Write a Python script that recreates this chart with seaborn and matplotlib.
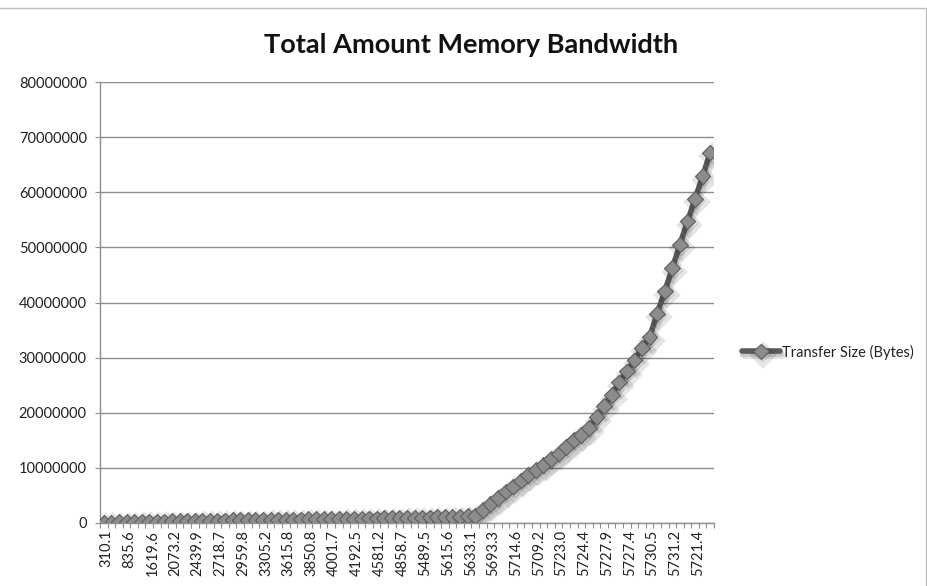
import matplotlib
matplotlib.use("Agg")
import matplotlib.pyplot as plt
import matplotlib.patheffects as pe
import matplotlib.transforms as mtransforms
from matplotlib.patches import Rectangle
import numpy as np
import pandas as pd
import seaborn as sns

title = "Total Amount Memory Bandwidth"
series_name = "Transfer Size (Bytes)"

# category labels shown on the x axis (every third category)
x_labels = [
    "310.1", "835.6", "1619.6", "2073.2", "2439.9", "2718.7", "2959.8",
    "3305.2", "3615.8", "3850.8", "4001.7", "4192.5", "4581.2", "4858.7",
    "5489.5", "5615.6", "5633.1", "5693.3", "5714.6", "5709.2", "5723.0",
    "5724.4", "5727.9", "5727.4", "5730.5", "5731.2", "5721.4",
]
label_step = 3

# transfer size per category, in bytes
transfer_size = [
    50000, 90000, 130000, 160000, 190000, 220000, 240000, 270000, 290000, 310000,
    330000, 360000, 380000, 400000, 420000, 440000, 460000, 480000, 500000, 520000,
    540000, 560000, 580000, 600000, 620000, 630000, 650000, 670000, 690000, 710000,
    720000, 740000, 760000, 780000, 800000, 820000, 840000, 860000, 880000, 900000,
    930000, 960000, 990000, 1020000, 1050000, 1080000, 1120000, 1160000, 1220000,
    1300000, 2400000, 3400000, 4500000, 5700000, 6600000, 7700000, 8700000,
    9600000, 10500000, 11600000, 12600000, 13800000, 15000000, 16000000,
    17200000, 19200000, 21200000, 23200000, 25500000, 27500000, 29500000,
    31800000, 33700000, 38000000, 42000000, 46200000, 50500000, 54700000,
    58800000, 62900000, 67200000,
]

y_ticks = [0, 10000000, 20000000, 30000000, 40000000, 50000000,
           60000000, 70000000, 80000000]

sns.set_theme(style="white")
plt.rcParams["font.family"] = ["Lato", "DejaVu Sans"]

df = pd.DataFrame({"category": np.arange(len(transfer_size)),
                   "size": transfer_size})

W, H = 928, 586
fig = plt.figure(figsize=(W / 100, H / 100), dpi=100)
ax = fig.add_axes([100 / W, 63 / H, 614 / W, 441 / H])

sns.lineplot(data=df, x="category", y="size", ax=ax, color="#5a5a5a",
             linewidth=4, marker="D", markersize=8,
             markerfacecolor="#8c8c8c", markeredgecolor="#5e5e5e",
             markeredgewidth=0.8, label=series_name, zorder=3)
line = ax.lines[0]
# soft drop shadow under the series
line.set_path_effects([
    pe.SimpleLineShadow(offset=(1.5, -2.5), shadow_color="black", alpha=0.10,
                        linewidth=6),
    pe.SimpleLineShadow(offset=(1, -1.5), shadow_color="black", alpha=0.12),
    pe.Normal(),
])

# axes ranges and grid
n = len(transfer_size)
ax.set_xlim(-0.5, n - 0.5)
ax.set_ylim(y_ticks[0], y_ticks[-1])
ax.set_yticks(y_ticks)
ax.set_yticklabels([str(v) for v in y_ticks])
ax.yaxis.grid(True, color="#8e8e8e", linewidth=1)
ax.set_axisbelow(True)

ax.set_xticks(np.arange(0, n, label_step)[:len(x_labels)])
ax.set_xticklabels(x_labels, rotation=90)
ax.set_xticks(np.arange(-0.5, n, 1), minor=True)
ax.tick_params(axis="x", which="major", length=0, pad=5, labelsize=10.5,
               colors="#222222")
ax.tick_params(axis="x", which="minor", length=3.5, width=0.8,
               color="#8e8e8e", direction="out", bottom=True)
ax.tick_params(axis="y", which="major", length=3.5, width=0.8,
               color="#8e8e8e", direction="out", left=True, pad=6,
               labelsize=10.5, labelcolor="#222222")

# nudge the rotated category labels slightly to the right
shift = mtransforms.ScaledTranslation(3 / 100, 0, fig.dpi_scale_trans)
for lbl in ax.get_xticklabels():
    lbl.set_transform(lbl.get_transform() + shift)

ax.set_xlabel("")
ax.set_ylabel("")
for side in ("top", "right"):
    ax.spines[side].set_visible(False)
for side in ("left", "bottom"):
    ax.spines[side].set_color("#8e8e8e")
    ax.spines[side].set_linewidth(1)

fig.text(471 / W, 1 - 45 / H, title, ha="center", va="center",
         fontsize=19.5, fontweight="bold", color="#111111")

ax.legend(loc="center left", bbox_to_anchor=(742 / W, 1 - 352 / H),
          bbox_transform=fig.transFigure, frameon=False, handlelength=2.6,
          handletextpad=0.15, borderpad=0, borderaxespad=0, fontsize=10.5,
          labelcolor="#222222")

# light chart frame
fig.patches.append(Rectangle((-0.01, -0.01), (W - 1.5) / W + 0.01,
                             1 - 8 / H + 0.01, transform=fig.transFigure,
                             fill=False, edgecolor="#bdbdbd", linewidth=1))

fig.savefig("out.png", dpi=100)
